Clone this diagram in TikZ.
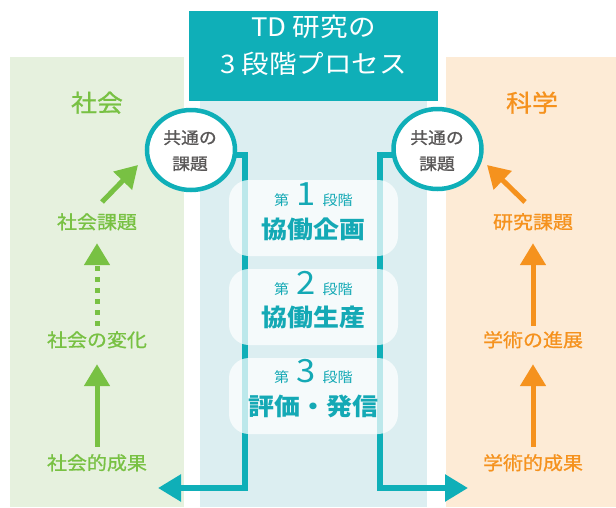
\documentclass[tikz,border=0pt]{standalone}
\usepackage{fontspec}
\setmainfont{Noto Sans CJK JP}[FakeStretch=1.08]
\newfontfamily\medfont{Noto Sans CJK JP}[FakeStretch=1.08, FakeBold=0.9]
\usetikzlibrary{arrows.meta,shapes.geometric}
\definecolor{tealc}{HTML}{0FAFB8}
\definecolor{bgblue}{HTML}{DCEEF1}
\definecolor{bggreen}{HTML}{E6F1DE}
\definecolor{bgorange}{HTML}{FDEBD6}
\definecolor{greenc}{HTML}{78C143}
\definecolor{orangec}{HTML}{F5921E}
\definecolor{grayc}{HTML}{595757}
\definecolor{stagetext}{HTML}{14A9B5}
\newcommand{\fs}[1]{\fontsize{#1}{#1}\selectfont}
\begin{document}
\begin{tikzpicture}[x=1pt,y=-1pt,
  txt/.style={inner sep=0pt, text height=0.88em, text depth=0.12em},
  sidelbl/.style={txt, font=\medfont\fs{18.5}},
  headlbl/.style={txt, font=\medfont\fs{24}},
  sarrow/.style={line width=5pt, -{Triangle[width=25pt,length=22pt]}},
  conn/.style={draw=tealc, line width=5.5pt, line join=miter, -{Triangle[width=26pt,length=23pt]}},
  bubble/.style={ellipse, draw=tealc, line width=4.5pt, fill=white, minimum width=88pt, minimum height=80pt, inner sep=0pt},
  stagebox/.style={rounded corners=20pt, fill=white, fill opacity=0.72, minimum width=169pt, minimum height=76pt, inner sep=0pt},
  stagemain/.style={txt, text=stagetext, font=\fs{24}\bfseries},
  bubbletxt/.style={txt, text=grayc, font=\medfont\fs{16.5}},
  titletxt/.style={txt, text=white, font=\fs{25.5}},
]
\useasboundingbox (0,0) rectangle (616,507);
% backgrounds
\fill[bggreen] (10,57) rectangle (184,507);
\fill[bgorange] (446,57) rectangle (616,507);
\fill[bgblue] (200,57) rectangle (427,507);
% title
\node[fill=tealc, minimum width=249pt, minimum height=90pt, inner sep=0pt, anchor=north west] (title) at (189,11) {};
\node[titletxt] (t1) at (313.5,33) {TD 研究の};
\node[titletxt] (t2) at (313.5,70) {3 段階プロセス};
% headers
\node[headlbl, text=greenc] (soc) at (97,108) {社会};
\node[headlbl, text=orangec] (sci) at (532,108) {科学};
% connectors coordinates
\coordinate (lturn) at (245,155);
\coordinate (lbot) at (245,488);
\coordinate (lend) at (158,488);
\coordinate (rturn) at (380,155);
\coordinate (rbot) at (380,488);
\coordinate (rend) at (468,488);
% bubbles (positions)
\path (191,150) coordinate (c1pos) (437.5,149) coordinate (c2pos);
\draw[conn] (c1pos |- lturn) -- (lturn) -- (lbot) -- (lend);
\draw[conn] (c2pos |- rturn) -- (rturn) -- (rbot) -- (rend);
\node[bubble] (c1) at (c1pos) {};
\node[bubble] (c2) at (c2pos) {};
\node[bubbletxt] (c1a) at (190,140) {共通の};
\node[bubbletxt] (c1b) at (190,166) {課題};
\node[bubbletxt] (c2a) at (437,140) {共通の};
\node[bubbletxt] (c2b) at (437,166) {課題};
% stage boxes
\node[stagebox] (s1) at (313.5,218) {};
\node[stagebox] (s2) at (313.5,307) {};
\node[stagebox] (s3) at (313.5,396) {};
\node[txt, text=stagetext] (s1a) at (313.5,202) {\fs{14}第\hspace{7pt}\fs{32}1\hspace{7pt}\fs{14}段階};
\node[stagemain] (s1b) at (313.5,235) {協働企画};
\node[txt, text=stagetext] (s2a) at (313.5,291) {\fs{14}第\hspace{7pt}\fs{32}2\hspace{7pt}\fs{14}段階};
\node[stagemain] (s2b) at (313.5,323) {協働生産};
\node[txt, text=stagetext] (s3a) at (313.5,379) {\fs{14}第\hspace{7pt}\fs{32}3\hspace{7pt}\fs{14}段階};
\node[stagemain] (s3b) at (313.5,412) {評価・発信};
% left column
\node[sidelbl, text=greenc] (g2) at (97,225) {社会課題};
\node[sidelbl, text=greenc] (g3) at (97,343) {社会の変化};
\node[sidelbl, text=greenc] (g4) at (97,466) {社会的成果};
\coordinate (ga1) at (102,202);
\coordinate (ga2) at (138,165);
\draw[sarrow, greenc] (ga1) -- (ga2);
\draw[sarrow, greenc, dash pattern=on 5pt off 6pt, shorten <=12pt, shorten >=13pt] (g3.north) -- (g2.south);
\draw[sarrow, greenc, shorten <=14pt, shorten >=16pt] (g4.north) -- (g3.south);
% right column
\node[sidelbl, text=orangec] (o2) at (533,225) {研究課題};
\node[sidelbl, text=orangec] (o3) at (533,343) {学術の進展};
\node[sidelbl, text=orangec] (o4) at (533,466) {学術的成果};
\coordinate (oa1) at (525,202);
\coordinate (oa2) at (487,165);
\draw[sarrow, orangec] (oa1) -- (oa2);
\draw[sarrow, orangec, shorten <=12pt, shorten >=13pt] (o3.north) -- (o2.south);
\draw[sarrow, orangec, shorten <=14pt, shorten >=16pt] (o4.north) -- (o3.south);
\end{tikzpicture}
\end{document}
